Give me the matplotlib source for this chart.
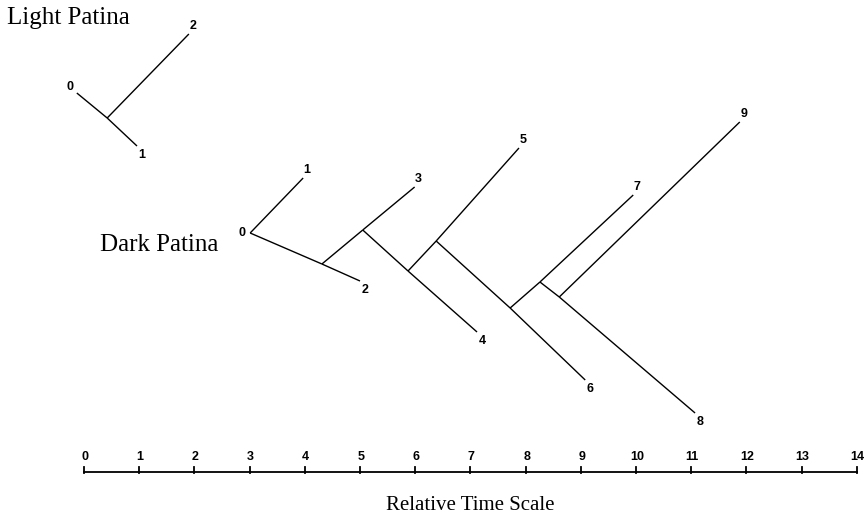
import matplotlib
matplotlib.use("Agg")
import matplotlib.pyplot as plt

# node positions: time (relative time scale) and vertical level (page rows, top = 0)
light_names = ["0", "j", "1", "2"]
light_time = [-0.13, 0.42, 0.96, 1.90]
light_level = [93, 118, 146, 34]
light_edges = [("0", "j"), ("j", "1"), ("j", "2")]

dark_names = ["0", "1", "j1", "2", "j2", "3", "j3", "4", "j4", "5",
              "j5", "6", "j6", "7", "j7", "8", "9"]
dark_time = [3.01, 3.97, 4.31, 5.00, 5.05, 5.99, 5.87, 7.12, 6.38, 7.88,
             7.72, 9.08, 8.26, 9.95, 8.61, 11.07, 11.88]
dark_level = [233, 178, 264, 281, 230, 187, 271, 332, 241, 148,
              308, 380, 282, 195, 297, 413, 122]
dark_edges = [("0", "1"), ("0", "j1"), ("j1", "2"), ("j1", "j2"), ("j2", "3"),
              ("j2", "j3"), ("j3", "4"), ("j3", "j4"), ("j4", "5"), ("j4", "j5"),
              ("j5", "6"), ("j5", "j6"), ("j6", "7"), ("j6", "j7"), ("j7", "8"),
              ("j7", "9")]

ticks = list(range(0, 15))
axis_level = 472

px = 55.2          # pixels per time unit
x0 = -84 / px      # left edge of the page in time units

fig = plt.figure(figsize=(8.68, 5.18), dpi=100)
ax = fig.add_axes([0, 0, 1, 1])
ax.set_xlim(x0, x0 + 868 / px)
ax.set_ylim(518, 0)
ax.axis("off")

numfont = dict(family="Liberation Sans", fontweight="bold", fontsize=9)
serif = dict(family="Liberation Serif")


def draw_tree(names, times, levels, edges, root_off):
    pos = {n: (t, l) for n, t, l in zip(names, times, levels)}
    parents = {}
    for a, b in edges:
        ax.plot([pos[a][0], pos[b][0]], [pos[a][1], pos[b][1]], color="black", lw=1.0,
                solid_capstyle="butt")
        parents[b] = a
    for n in names:
        if n.startswith("j"):
            continue
        if n not in parents:
            off = root_off
        elif pos[n][1] < pos[parents[n]][1]:
            off = (4, 8)
        else:
            off = (5, -9)
        ax.annotate(n, pos[n], xytext=off, textcoords="offset pixels",
                    ha="center", va="center", **numfont)


draw_tree(light_names, light_time, light_level, light_edges, (-7, 6))
draw_tree(dark_names, dark_time, dark_level, dark_edges, (-8, 0))

# time scale
ax.plot([ticks[0], ticks[-1]], [axis_level, axis_level], color="black", lw=1.3)
for t in ticks:
    ax.plot([t, t], [axis_level - 5, axis_level + 1], color="black", lw=1.3)
    ax.annotate(str(t), (t, axis_level), xytext=(1, 15), textcoords="offset pixels",
                ha="center", va="center", **numfont)

ax.text(7, 505, "Relative Time Scale", ha="center", va="center", fontsize=15, **serif)
ax.text(x0 + 7 / px, 18, "Light Patina", ha="left", va="center", fontsize=18, **serif)
ax.text(x0 + 100 / px, 245, "Dark Patina", ha="left", va="center", fontsize=18, **serif)

fig.savefig("out.png", dpi=100, facecolor="white")
